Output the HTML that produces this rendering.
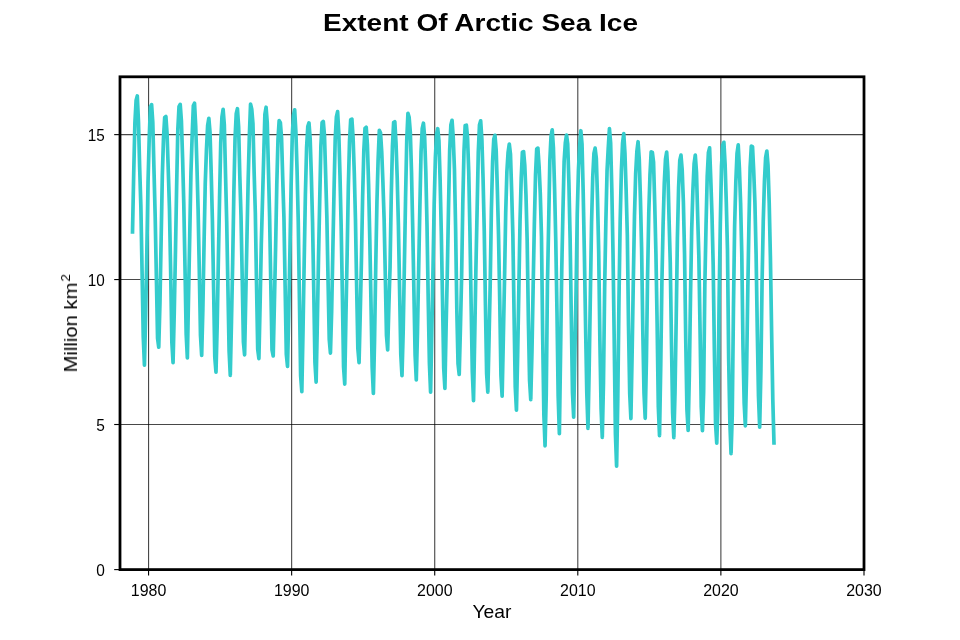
<!DOCTYPE html>
<html><head><meta charset="utf-8"><style>
html,body{margin:0;padding:0;background:#fff;}
body{width:960px;height:640px;overflow:hidden;}
svg{display:block;font-family:"Liberation Sans",sans-serif;}
</style></head><body>
<svg width="960" height="640" viewBox="0 0 960 640">
<rect width="960" height="640" fill="#fff"/>
<g stroke="#000" stroke-width="1.11" stroke-opacity="0.72" fill="none">
<line x1="148.565" y1="76.80" x2="148.565" y2="569.60"/>
<line x1="291.642" y1="76.80" x2="291.642" y2="569.60"/>
<line x1="434.719" y1="76.80" x2="434.719" y2="569.60"/>
<line x1="577.796" y1="76.80" x2="577.796" y2="569.60"/>
<line x1="720.873" y1="76.80" x2="720.873" y2="569.60"/>
<line x1="120.00" y1="424.509" x2="864.00" y2="424.509"/>
<line x1="120.00" y1="279.568" x2="864.00" y2="279.568"/>
<line x1="120.00" y1="134.626" x2="864.00" y2="134.626"/>
</g>
<polyline points="132.52,231.89 133.71,173.33 134.90,122.89 136.10,100.57 137.29,95.93 138.48,121.73 139.67,167.82 140.87,206.38 142.06,270.73 143.25,336.53 144.44,365.23 145.63,315.95 146.83,252.47 148.02,182.90 149.21,138.83 150.40,106.95 151.60,104.63 152.79,122.31 153.98,169.85 155.17,215.94 156.37,276.82 157.56,338.27 158.75,347.26 159.94,303.49 161.13,239.71 162.33,175.65 163.52,137.39 164.71,117.38 165.90,116.51 167.10,134.49 168.29,170.72 169.48,209.28 170.67,271.89 171.87,342.33 173.06,362.62 174.25,312.76 175.44,252.76 176.63,186.67 177.83,129.56 179.02,106.66 180.21,104.34 181.40,120.86 182.60,158.26 183.79,203.77 184.98,266.09 186.17,333.93 187.37,357.99 188.56,294.50 189.75,235.08 190.94,172.75 192.13,136.52 193.33,105.79 194.52,103.18 195.71,126.37 196.90,164.34 198.10,209.57 199.29,269.57 200.48,335.09 201.67,355.38 202.87,308.42 204.06,243.19 205.25,183.48 206.44,150.14 207.63,125.50 208.83,118.25 210.02,132.46 211.21,173.33 212.40,220.29 213.60,287.83 214.79,357.12 215.98,372.19 217.17,325.81 218.37,259.72 219.56,198.26 220.75,142.89 221.94,117.09 223.13,109.27 224.33,124.92 225.52,174.20 226.71,222.03 227.90,286.38 229.10,351.03 230.29,375.38 231.48,321.46 232.67,262.61 233.87,191.59 235.06,137.97 236.25,113.62 237.44,108.69 238.63,127.24 239.83,176.81 241.02,216.52 242.21,277.69 243.40,341.75 244.60,354.80 245.79,295.37 246.98,236.82 248.17,180.00 249.37,135.65 250.56,104.05 251.75,109.27 252.94,123.76 254.13,172.17 255.33,213.04 256.52,283.49 257.71,349.29 258.90,358.57 260.10,304.07 261.29,244.64 264.87,114.48 266.06,107.24 267.25,122.89 268.44,169.85 269.63,217.10 270.83,285.52 272.02,349.87 273.21,355.96 274.40,303.20 275.60,247.83 276.79,184.93 277.98,139.70 279.17,120.57 280.37,122.60 281.56,138.26 282.75,179.42 283.94,217.68 285.13,286.38 286.33,354.22 287.52,366.39 288.71,314.21 289.90,252.47 291.10,186.09 292.29,135.07 293.48,115.06 294.67,109.85 295.87,131.59 297.06,170.14 298.25,221.16 299.44,299.72 300.63,375.67 301.83,391.61 303.02,330.16 304.21,260.30 305.40,194.20 306.60,147.53 307.79,126.66 308.98,122.89 310.17,138.83 311.37,176.81 312.56,222.61 313.75,289.57 314.94,362.33 316.13,382.05 317.33,323.49 318.52,257.98 319.71,200.29 320.90,145.79 322.10,122.60 323.29,121.44 324.48,135.36 325.67,175.07 326.87,217.39 328.06,280.59 329.25,339.43 330.44,353.06 331.63,312.18 332.83,251.31 334.02,191.59 335.21,138.83 336.40,116.80 337.60,111.59 338.79,133.04 339.98,175.36 341.17,226.67 342.37,294.79 343.56,366.97 344.75,384.08 345.94,315.37 347.13,254.79 348.33,187.25 349.52,141.15 350.71,119.70 351.90,119.12 353.10,137.97 354.29,173.04 355.48,220.29 356.67,287.83 357.87,348.71 359.06,362.62 360.25,313.34 361.44,260.30 362.63,196.52 363.83,150.72 365.02,128.40 366.21,127.24 367.40,144.63 368.60,184.35 369.79,238.84 370.98,302.33 372.17,367.26 373.37,393.35 374.56,340.01 375.75,266.09 376.94,201.74 378.13,159.42 379.33,130.43 380.52,132.75 381.71,151.59 382.90,182.03 384.10,218.55 385.29,274.79 386.48,335.38 387.67,349.87 388.87,305.52 390.06,266.96 391.25,196.81 392.44,146.66 393.63,122.60 394.83,121.73 396.02,143.18 397.21,177.97 398.40,224.93 399.60,289.86 400.79,354.51 401.98,375.67 403.17,331.90 404.37,265.80 405.56,198.26 406.75,140.57 407.94,113.33 409.13,117.38 410.33,132.46 411.52,172.46 412.71,227.83 413.90,290.73 415.10,354.80 416.29,380.02 417.48,332.19 418.67,269.28 419.87,206.38 421.06,151.59 422.25,128.40 423.44,123.18 424.63,136.81 425.83,171.88 427.02,225.80 428.21,299.43 429.40,362.91 430.60,392.19 431.79,332.48 432.98,270.44 434.17,204.35 435.37,157.97 436.56,134.20 437.75,128.69 438.94,140.57 440.13,180.58 441.33,233.92 442.52,300.01 443.71,367.84 444.90,388.42 446.10,326.68 447.29,273.34 448.48,210.15 449.67,150.43 450.87,124.92 452.06,120.28 453.25,137.97 454.44,169.27 455.63,229.57 456.83,309.87 458.02,363.49 459.21,374.51 460.40,329.00 461.60,277.40 462.79,204.06 463.98,151.59 465.17,125.50 466.37,125.21 467.56,137.68 468.75,172.46 469.94,231.89 471.13,303.78 472.33,372.19 473.52,400.60 474.71,337.11 475.90,269.28 477.10,210.44 478.29,152.17 479.48,124.92 480.67,120.86 481.87,139.12 483.06,178.55 484.25,231.02 485.44,304.94 486.63,373.64 487.83,392.19 489.02,340.01 490.21,283.78 491.40,209.57 492.60,161.74 493.79,139.12 494.98,135.36 496.17,150.14 497.37,189.85 498.56,236.24 499.75,301.17 500.94,375.38 502.13,396.25 503.33,338.56 504.52,279.72 505.71,212.75 506.90,171.59 508.10,152.17 509.29,144.05 510.48,154.20 511.67,191.59 512.87,235.37 514.06,314.21 515.25,386.97 516.44,410.16 517.63,355.96 518.83,290.15 520.02,221.45 521.21,178.26 522.40,152.17 523.60,151.59 524.79,165.50 525.98,195.07 527.17,240.58 528.37,319.72 529.56,380.02 530.75,399.73 531.94,352.48 533.13,287.83 534.33,225.22 535.52,175.07 536.71,148.98 537.90,148.11 539.10,166.66 540.29,193.91 541.48,236.82 542.67,335.38 543.87,414.80 545.06,445.82 546.25,394.51 547.44,284.65 548.63,224.93 549.83,160.87 551.02,136.23 552.21,129.85 553.40,147.53 554.60,189.56 555.79,241.45 556.98,311.60 558.17,396.25 559.37,433.65 560.56,353.35 561.75,269.86 562.94,211.31 564.13,161.45 565.33,142.89 566.52,135.07 567.71,144.05 568.90,182.90 570.10,237.97 571.29,316.24 572.48,392.77 573.67,417.12 574.87,352.48 576.06,291.31 577.25,214.20 578.44,170.14 579.63,146.37 580.83,130.72 582.02,144.05 583.21,193.33 584.40,255.37 585.60,327.55 586.79,392.77 587.98,428.43 589.17,368.13 590.37,294.21 591.56,223.19 592.75,176.81 593.94,153.33 595.13,148.11 596.33,158.55 597.52,199.13 598.71,252.18 599.90,341.17 601.10,409.01 602.29,437.41 603.48,382.34 604.67,286.38 605.87,221.16 607.06,170.72 608.25,147.82 609.44,128.69 610.63,142.89 611.83,189.56 613.02,253.63 614.21,339.43 615.40,433.07 616.60,466.11 617.79,398.86 618.98,298.85 620.17,221.16 621.37,171.01 622.56,143.18 623.75,133.62 624.94,153.04 626.13,190.14 627.33,235.37 628.52,326.10 629.71,393.06 630.90,418.57 632.10,354.22 633.29,282.33 634.48,216.23 635.67,173.62 636.87,151.59 638.06,141.73 639.25,159.13 640.44,199.13 641.63,249.86 642.83,331.61 644.02,393.35 645.21,418.28 646.40,360.59 647.60,275.08 648.79,213.04 649.98,174.78 651.17,151.88 652.37,152.46 653.56,162.32 654.75,204.93 655.94,254.21 657.13,323.78 658.33,406.98 659.52,435.67 660.71,367.26 661.90,282.33 663.10,224.35 664.29,183.19 665.48,159.42 666.67,152.17 667.87,171.01 669.06,219.13 670.25,262.32 671.44,340.01 672.63,412.77 673.83,437.70 675.02,392.19 676.21,318.56 677.40,237.68 678.60,187.82 679.79,160.29 680.98,155.07 682.17,169.56 683.37,201.45 684.56,254.79 685.75,339.72 686.94,409.58 688.13,430.46 689.33,375.09 690.52,295.37 691.71,229.28 692.90,190.43 694.10,163.76 695.29,155.07 696.48,172.17 697.67,215.94 698.87,257.11 700.06,330.16 701.25,406.98 702.44,430.75 703.63,391.90 704.83,285.52 706.02,226.38 707.21,176.52 708.40,152.75 709.60,147.82 710.79,179.71 711.98,215.07 713.17,264.64 714.37,349.87 715.56,423.79 716.75,443.21 717.94,405.53 719.13,299.14 720.33,223.19 721.52,165.50 722.71,145.21 723.90,142.31 725.10,164.05 726.29,202.32 727.48,250.15 728.67,358.57 729.87,422.63 731.06,453.65 732.25,415.09 733.44,308.71 734.63,226.09 735.83,181.74 737.02,153.62 738.21,144.92 739.40,168.40 740.60,202.90 741.79,254.50 742.98,346.39 744.17,403.21 745.37,425.82 746.56,373.35 747.75,293.05 748.94,223.77 750.13,167.24 751.33,146.08 752.52,146.66 753.71,171.01 754.90,202.32 756.10,254.21 757.29,330.45 758.48,395.96 759.67,427.27 760.87,372.19 762.06,282.62 763.25,221.45 764.44,181.45 765.63,157.68 766.83,151.01 768.02,165.50 769.21,203.19 770.40,257.11 771.60,331.32 772.79,399.15 773.98,442.92" fill="none" stroke="#33CCCC" stroke-width="3.7" stroke-linejoin="round" stroke-linecap="square"/>
<rect x="120.0" y="76.8" width="744.0" height="492.8" fill="none" stroke="#000" stroke-width="2.78" stroke-linejoin="miter"/>
<g stroke="#000" stroke-width="1.11">
<line x1="148.565" y1="569.60" x2="148.565" y2="575.40"/>
<line x1="291.642" y1="569.60" x2="291.642" y2="575.40"/>
<line x1="434.719" y1="569.60" x2="434.719" y2="575.40"/>
<line x1="577.796" y1="569.60" x2="577.796" y2="575.40"/>
<line x1="720.873" y1="569.60" x2="720.873" y2="575.40"/>
<line x1="864.000" y1="569.60" x2="864.000" y2="575.40"/>
<line x1="114.20" y1="569.600" x2="120.00" y2="569.600"/>
<line x1="114.20" y1="424.509" x2="120.00" y2="424.509"/>
<line x1="114.20" y1="279.568" x2="120.00" y2="279.568"/>
<line x1="114.20" y1="134.626" x2="120.00" y2="134.626"/>
</g>
<g opacity="0.999">
<g fill="#000" font-size="16.5">
<text x="148.62" y="596.00" textLength="35.50" lengthAdjust="spacingAndGlyphs" text-anchor="middle">1980</text>
<text x="291.69" y="596.00" textLength="35.50" lengthAdjust="spacingAndGlyphs" text-anchor="middle">1990</text>
<text x="434.77" y="596.00" textLength="35.50" lengthAdjust="spacingAndGlyphs" text-anchor="middle">2000</text>
<text x="577.85" y="596.00" textLength="35.50" lengthAdjust="spacingAndGlyphs" text-anchor="middle">2010</text>
<text x="720.92" y="596.00" textLength="35.50" lengthAdjust="spacingAndGlyphs" text-anchor="middle">2020</text>
<text x="864.00" y="596.00" textLength="35.50" lengthAdjust="spacingAndGlyphs" text-anchor="middle">2030</text>
<text x="104.80" y="575.80" textLength="8.60" lengthAdjust="spacingAndGlyphs" text-anchor="end">0</text>
<text x="104.80" y="430.86" textLength="8.60" lengthAdjust="spacingAndGlyphs" text-anchor="end">5</text>
<text x="104.80" y="285.92" textLength="17.00" lengthAdjust="spacingAndGlyphs" text-anchor="end">10</text>
<text x="104.80" y="140.98" textLength="17.00" lengthAdjust="spacingAndGlyphs" text-anchor="end">15</text>
</g>
<text x="323.0" y="30.9" font-size="24.4" font-weight="bold" textLength="315" lengthAdjust="spacingAndGlyphs">Extent Of Arctic Sea Ice</text>
<text x="472.5" y="618.0" font-size="18.4" textLength="39" lengthAdjust="spacingAndGlyphs">Year</text>
<text transform="translate(77.0,372.4) rotate(-90)" font-size="18.4"><tspan textLength="89.7" lengthAdjust="spacingAndGlyphs">Million km</tspan><tspan font-size="13.5" dy="-7.5" dx="1">2</tspan></text>
</g>
</svg>
</body></html>
